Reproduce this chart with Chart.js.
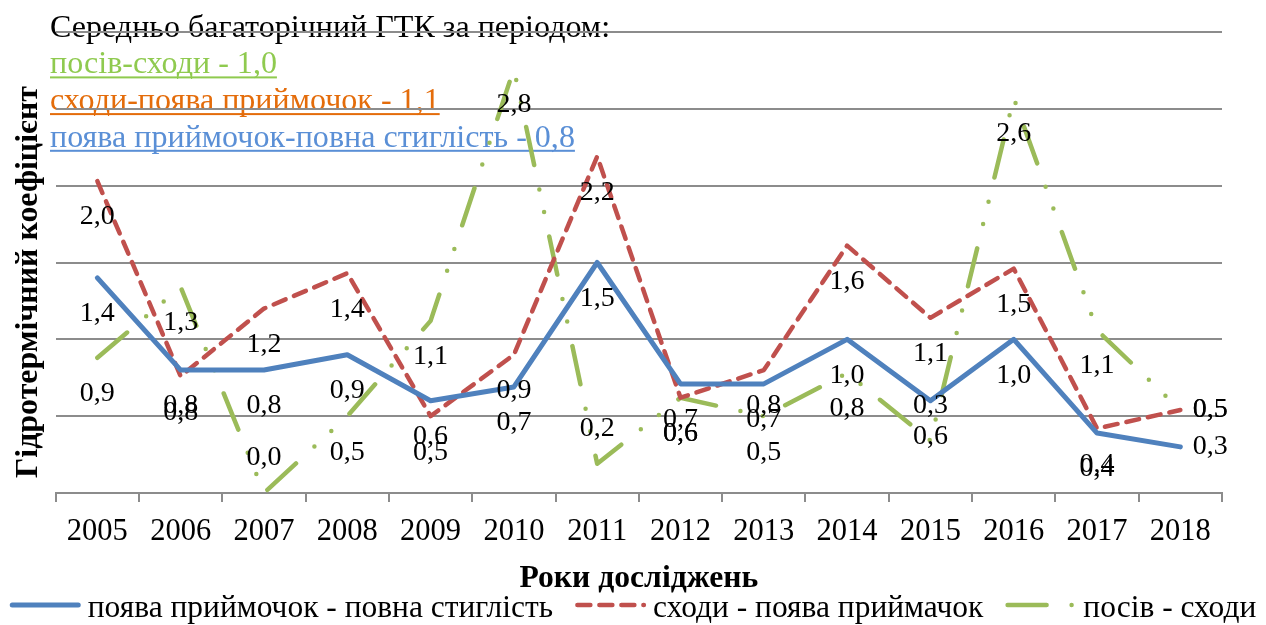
<!DOCTYPE html>
<html><head><meta charset="utf-8">
<script src="https://cdn.jsdelivr.net/npm/chart.js@4.4.1/dist/chart.umd.min.js"></script>
<style>html,body{margin:0;padding:0;background:#fff;}canvas{display:block;}</style>
</head><body>
<canvas id="c" width="1266" height="625" style="width:1266px;height:625px"></canvas>
<script>
// ---- data ----
const years = ['2005','2006','2007','2008','2009','2010','2011','2012','2013','2014','2015','2016','2017','2018'];
const flowerToRipe = [1.4, 0.8, 0.8, 0.9, 0.6, 0.69, 1.5, 0.71, 0.71, 1.0, 0.6, 1.0, 0.39, 0.3];
const emergeToFlower = [2.03, 0.76, 1.2, 1.43, 0.5, 0.9, 2.19, 0.62, 0.8, 1.61, 1.14, 1.46, 0.42, 0.54];
const sowToEmerge = [0.88, 1.34, 0.0, 0.5, 1.12, 2.76, 0.19, 0.62, 0.5, 0.78, 0.34, 2.57, 1.06, 0.54];
const seriesNames = ['поява приймочок - повна стиглість', 'сходи - поява приймачок', 'посів - сходи'];
const headerTitle = 'Середньо багаторічний ГТК за періодом:';
const headerLines = ['посів-сходи - 1,0', 'сходи-поява приймочок - 1,1', 'поява приймочок-повна стиглість - 0,8'];
const yTitle = 'Гідротермічний коефіцієнт';
const xTitle = 'Роки досліджень';
const yMin = 0, yMax = 3, yStep = 0.5;

// ---- styling ----
const FAMILY = '"Liberation Serif", "Times New Roman", serif';
const GRID = '#8c8c8c';
const headerColors = ['#8fca4f', '#e46c0a', '#5a8fd6'];
const mctx = document.createElement('canvas').getContext('2d');
function fit(text, target, weight) {
  mctx.font = (weight || 'normal') + ' 100px ' + FAMILY;
  return 100 * target / mctx.measureText(text).width;
}
const tickSize = fit('2005', 61);
const labelSize = fit('2,8', 35);
const headSize = fit(headerLines[0], 227);
const yTitleSize = fit(yTitle, 392, 'bold');
const xTitleSize = fit(xTitle, 239, 'bold');
const legendSize = fit(seriesNames[2], 173);

const fmt = v => v.toFixed(1).replace('.', ',');

const overlay = {
  id: 'overlay',
  beforeDraw(chart) {
    const ctx = chart.ctx;
    ctx.save();
    ctx.fillStyle = '#fff';
    ctx.fillRect(0, 0, chart.width, chart.height);
    ctx.textAlign = 'left';
    ctx.textBaseline = 'alphabetic';
    ctx.font = headSize + 'px ' + FAMILY;
    ctx.fillStyle = '#000';
    ctx.fillText(headerTitle, 50, 36.7);
    headerLines.forEach((t, i) => {
      const y = 36.7 + (i + 1) * 36.7;
      ctx.fillStyle = headerColors[i];
      ctx.fillText(t, 50, y);
      const w = ctx.measureText(t).width;
      ctx.fillRect(50, y + 3, w, 2);
    });
    // y axis title
    ctx.save();
    ctx.translate(29, 282);
    ctx.rotate(-Math.PI / 2);
    ctx.textAlign = 'center';
    ctx.textBaseline = 'middle';
    ctx.fillStyle = '#000';
    ctx.font = 'bold ' + yTitleSize + 'px ' + FAMILY;
    ctx.fillText(yTitle, 0, 0);
    ctx.restore();
    ctx.restore();
  },
  afterDatasetsDraw(chart) {
    const ctx = chart.ctx;
    const area = chart.chartArea;
    ctx.save();
    ctx.font = labelSize + 'px ' + FAMILY;
    ctx.fillStyle = '#000';
    ctx.textAlign = 'center';
    ctx.textBaseline = 'middle';
    chart.data.datasets.forEach((ds, di) => {
      const meta = chart.getDatasetMeta(di);
      meta.data.forEach((pt, i) => {
        let x = pt.x, y = pt.y + 36;
        if (i === meta.data.length - 1) { x = pt.x + 30; y = pt.y; }
        else if (y > area.bottom - 22) { y = pt.y - 35; }
        ctx.fillText(fmt(ds.data[i]), x, y);
      });
    });
    ctx.restore();
  },
  afterDraw(chart) {
    const ctx = chart.ctx;
    ctx.save();
    ctx.font = legendSize + 'px ' + FAMILY;
    const L = 71, g1 = 7, g2 = 22, ly = 605;
    const widths = seriesNames.map(n => ctx.measureText(n).width);
    const total = widths.reduce((a, b) => a + b, 0) + 3 * (L + g1) + 2 * g2;
    let x = (chart.width - total) / 2;
    chart.data.datasets.forEach((ds, i) => {
      ctx.save();
      ctx.strokeStyle = ds.borderColor;
      ctx.lineWidth = ds.borderWidth;
      ctx.lineCap = 'round';
      ctx.setLineDash(ds.borderDash || []);
      const cap = ds.borderWidth / 2;
      ctx.beginPath();
      ctx.moveTo(x + cap, ly);
      ctx.lineTo(x + L - cap, ly);
      ctx.stroke();
      ctx.restore();
      ctx.fillStyle = '#000';
      ctx.textAlign = 'left';
      ctx.textBaseline = 'alphabetic';
      ctx.fillText(seriesNames[i], x + L + g1, 617);
      x += L + g1 + widths[i] + g2;
    });
    ctx.restore();
  }
};

new Chart(document.getElementById('c'), {
  type: 'line',
  data: {
    labels: years,
    datasets: [
      { label: seriesNames[0], data: flowerToRipe, borderColor: '#4f81bd', borderWidth: 5, borderDash: [],
        borderCapStyle: 'round', borderJoinStyle: 'round', pointRadius: 0, tension: 0, fill: false },
      { label: seriesNames[1], data: emergeToFlower, borderColor: '#c0504d', borderWidth: 4.5, borderDash: [13, 9],
        borderCapStyle: 'round', borderJoinStyle: 'round', pointRadius: 0, tension: 0, fill: false },
      { label: seriesNames[2], data: sowToEmerge, borderColor: '#9bbb59', borderWidth: 4.5, borderDash: [39, 25, 0, 23, 0, 25],
        borderCapStyle: 'round', borderJoinStyle: 'round', pointRadius: 0, tension: 0, fill: false }
    ]
  },
  options: {
    responsive: false,
    animation: false,
    events: [],
    layout: { padding: { left: 0, right: 44, top: 32, bottom: 0 } },
    plugins: { legend: { display: false }, tooltip: { enabled: false }, title: { display: false } },
    scales: {
      x: {
        type: 'category',
        offset: true,
        grid: { display: true, offset: true, drawOnChartArea: false, drawTicks: true, tickLength: 9, color: GRID, lineWidth: 2 },
        border: { display: true, color: GRID, width: 2 },
        ticks: { color: '#000', font: { family: FAMILY, size: tickSize }, padding: 12, maxRotation: 0, autoSkip: false },
        title: { display: true, text: xTitle, color: '#000', font: { family: FAMILY, size: xTitleSize, weight: 'bold' }, padding: { top: 0, bottom: 27 } },
        afterFit(s) { s.height = 132; }
      },
      y: {
        min: yMin, max: yMax,
        ticks: { display: false, stepSize: yStep },
        grid: { color: GRID, lineWidth: 2, drawTicks: false },
        border: { display: false },
        afterFit(s) { s.width = 55.7; }
      }
    }
  },
  plugins: [overlay]
});
</script>
</body></html>
